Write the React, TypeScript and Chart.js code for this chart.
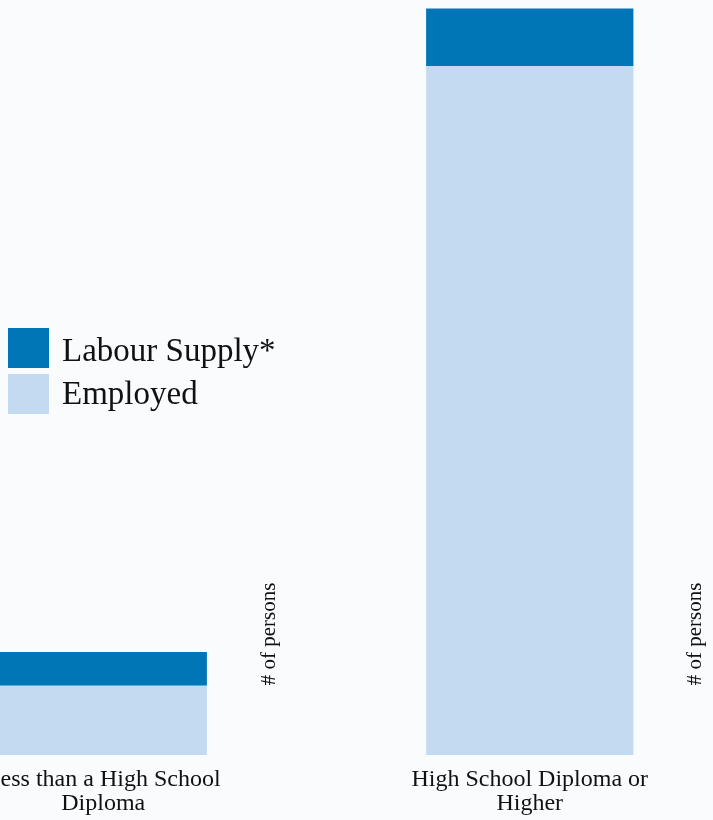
import React, { useEffect, useRef } from "react";
import { Chart, registerables } from "chart.js";

Chart.register(...registerables);

const categories: string[][] = [
  ["Less than a High School", "Diploma"],
  ["High School Diploma or", "Higher"],
];
const labourSupply: number[] = [13700, 99400];
const employed: number[] = [9200, 91700];
const seriesNames: string[] = ["Labour Supply*", "Employed"];
const axisTitle = "# of persons";

const DARK = "#0076B6";
const LIGHT = "#C4DAF0";
const BG = "#F9FBFD";
const TEXT = "#111111";
const SERIF = "'Liberation Serif', 'DejaVu Serif', serif";

// labour supply drawn as the part above employed (stacked)
const supplyGap: number[] = labourSupply.map((v, i) => v - employed[i]);

const personsLabel = {
  id: "personsLabel",
  afterDraw(chart: any) {
    const ctx = chart.ctx;
    const xs = chart.scales.x;
    const area = chart.chartArea;
    ctx.save();
    ctx.fillStyle = TEXT;
    ctx.font = `21px ${SERIF}`;
    ctx.textAlign = "center";
    ctx.textBaseline = "middle";
    categories.forEach((_, i) => {
      const x = xs.getPixelForValue(i) + 166;
      const y = area.bottom - 121;
      ctx.save();
      ctx.translate(x, y);
      ctx.rotate(-Math.PI / 2);
      ctx.fillText(axisTitle, 0, 0);
      ctx.restore();
    });
    ctx.restore();
  },
};

export default function App() {
  const ref = useRef<HTMLCanvasElement | null>(null);

  useEffect(() => {
    if (!ref.current) return;
    const chart = new Chart(ref.current, {
      type: "bar",
      data: {
        labels: categories,
        datasets: [
          {
            label: seriesNames[1],
            data: employed,
            backgroundColor: LIGHT,
            borderWidth: 0,
            categoryPercentage: 1,
            barPercentage: 0.486,
          } as any,
          {
            label: seriesNames[0],
            data: supplyGap,
            backgroundColor: DARK,
            borderWidth: 0,
            categoryPercentage: 1,
            barPercentage: 0.486,
          } as any,
        ],
      },
      options: {
        responsive: false,
        animation: false,
        devicePixelRatio: 1,
        layout: { padding: { top: 4, bottom: 0, left: 0, right: 0 } },
        plugins: {
          legend: { display: false },
          tooltip: { enabled: false },
        },
        scales: {
          x: {
            stacked: true,
            grid: { display: false },
            border: { display: false },
            ticks: {
              color: TEXT,
              font: { family: SERIF, size: 24, lineHeight: 0.98 },
              padding: 5,
              maxRotation: 0,
              autoSkip: false,
            },
          },
          y: {
            stacked: true,
            display: false,
            min: 0,
            max: 100000,
          },
        },
      },
      plugins: [personsLabel],
    });
    return () => chart.destroy();
  }, []);

  return (
    <div
      style={{
        position: "fixed",
        left: 0,
        top: 0,
        width: 713,
        height: 820,
        background: BG,
        overflow: "hidden",
      }}
    >
      <canvas
        ref={ref}
        width={853}
        height={820}
        style={{ position: "absolute", left: -110, top: 0 }}
      />
      <div
        style={{
          position: "absolute",
          left: 8,
          top: 328,
          fontFamily: SERIF,
          fontSize: 33,
          color: TEXT,
        }}
      >
        {[
          { name: seriesNames[0], color: DARK },
          { name: seriesNames[1], color: LIGHT },
        ].map((it, i) => (
          <div
            key={i}
            style={{
              display: "flex",
              alignItems: "center",
              height: 40,
              marginBottom: i === 0 ? 6 : 0,
            }}
          >
            <span
              style={{
                display: "inline-block",
                width: 41,
                height: 40,
                background: it.color,
                marginRight: 13,
              }}
            />
            <span
              style={{
                lineHeight: "40px",
                whiteSpace: "nowrap",
                position: "relative",
                top: i === 0 ? 2 : -1,
              }}
            >
              {it.name}
            </span>
          </div>
        ))}
      </div>
    </div>
  );
}
